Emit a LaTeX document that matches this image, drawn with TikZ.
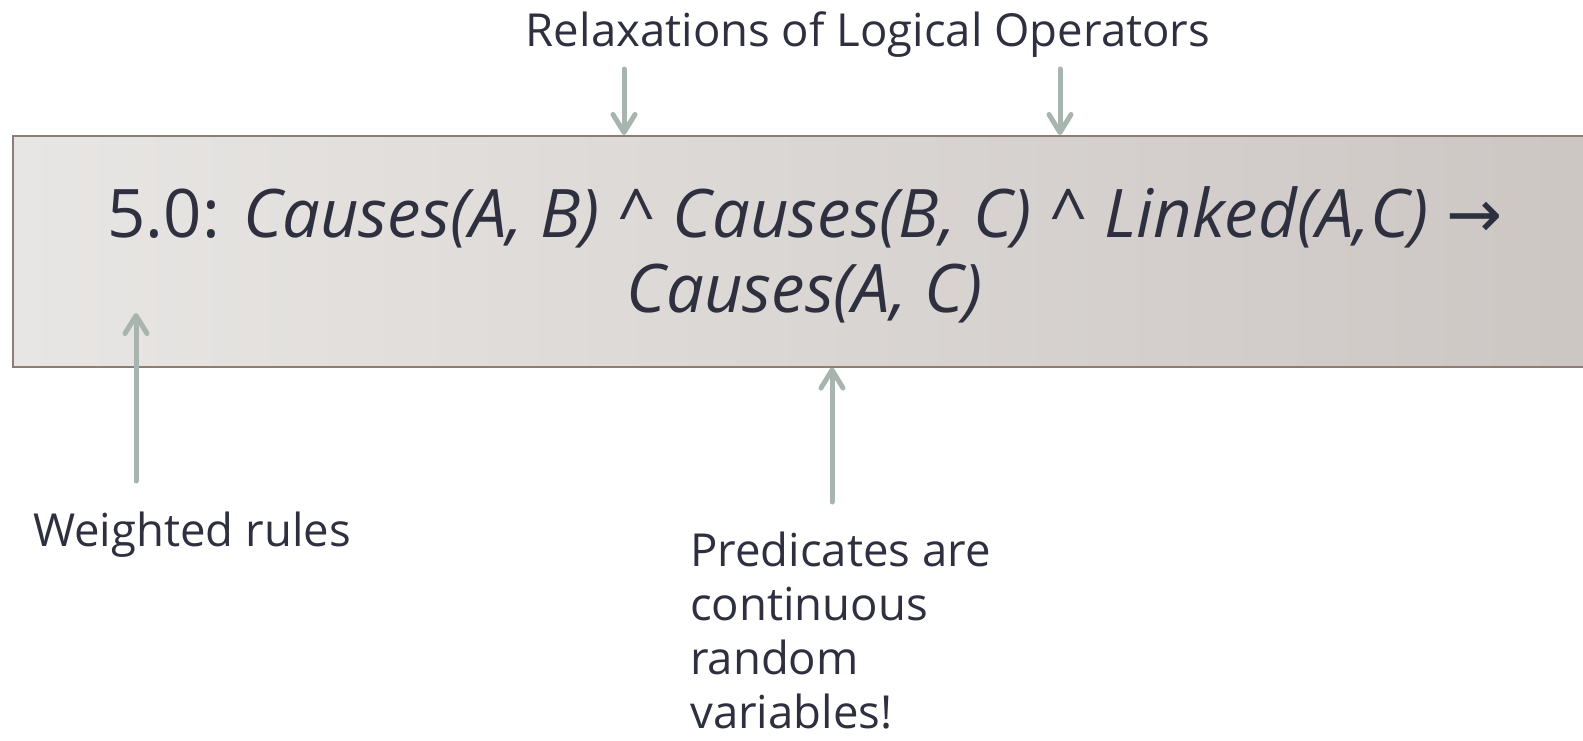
\documentclass[tikz,border=0pt]{standalone}
\usepackage{fontspec}
\setmainfont{Open Sans}
\newfontfamily\arrowfont{DejaVu Sans}
\usetikzlibrary{arrows.meta}
\definecolor{ink}{HTML}{2E3040}
\definecolor{pointer}{HTML}{A8B5AE}
\definecolor{boxleft}{HTML}{E8E6E4}
\definecolor{boxmid}{HTML}{E4E1DF}
\definecolor{boxright}{HTML}{CCC6C3}
\definecolor{boxline}{HTML}{8E7D72}
\begin{document}
\begin{tikzpicture}[x=1pt,y=-1pt,
  rulebox/.style={draw=boxline, line width=1.5pt, left color=boxleft,
    middle color=boxmid, right color=boxright, inner sep=0pt,
    minimum width=1600pt, minimum height=231pt, anchor=north west},
  formula/.style={text=ink, font=\fontsize{67}{75}\selectfont, anchor=base, inner sep=0pt},
  label/.style={text=ink, font=\fontsize{45.5}{54}\selectfont, inner sep=0pt},
  ptr/.style={draw=pointer, line width=5pt, line cap=round,
    -{Straight Barb[length=18pt, width=22pt, round]}}]
\useasboundingbox (0,0) rectangle (1583,740);
\clip (0,0) rectangle (1583,740);

% the weighted rule
\node[rulebox] (rule) at (12,135) {};
\node[formula] (line1) at (805,237)
  {5.0: \textit{Causes(A, B) \textasciicircum{} Causes(B, C) \textasciicircum{} Linked(A,C)} {\arrowfont →}};
\node[formula] (line2) at (805,312) {\textit{Causes(A, C)}};

% annotations
\node[label, anchor=base] (relax) at (868,46) {Relaxations of Logical Operators};
\node[label, anchor=base west] (weight) at (33,546) {Weighted rules};
\node[label, anchor=base west, align=left] (pred) at (690,728)
  {Predicates are\\continuous\\random\\variables!};

% pointers
\coordinate (r1) at (624,69);
\coordinate (r2) at (1060,69);
\coordinate (w0) at (136,481);
\coordinate (w1) at (136,313);
\coordinate (p0) at (832,502);
\draw[ptr] (r1) -- (r1 |- rule.north);
\draw[ptr] (r2) -- (r2 |- rule.north);
\draw[ptr] (w0) -- (w1);
\draw[ptr] (p0) -- (p0 |- rule.south);
\end{tikzpicture}
\end{document}
